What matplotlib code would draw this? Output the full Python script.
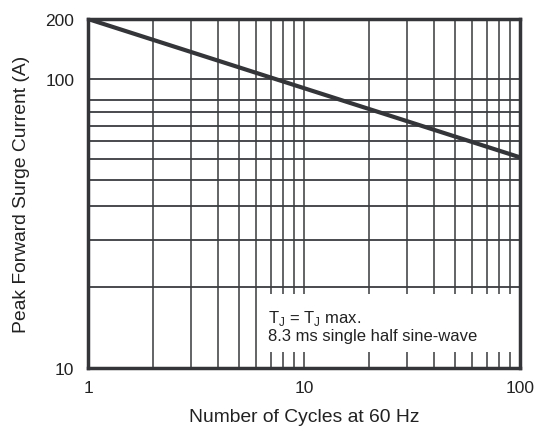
import numpy as np
import matplotlib.pyplot as plt
from matplotlib.patches import Rectangle

plt.rcParams['font.family'] = ['Liberation Sans', 'DejaVu Sans']
plt.rcParams['mathtext.fontset'] = 'custom'
plt.rcParams['mathtext.rm'] = 'Liberation Sans'

# surge curve (straight on log-log)
cycles = [1, 100]
current = [200, 61]

# grid values
x_grid = [2, 3, 4, 5, 6, 7, 8, 9, 10, 20, 30, 40, 50, 60, 70, 80, 90]
y_grid = [20, 30, 40, 50, 60, 70, 80, 90, 100, 120]

# tick labels as printed on the sheet
x_ticks = [1, 10, 100]
x_labels = ['1', '10', '100']
y_ticks = [10, 120, 200]
y_labels = ['10', '100', '200']

ink = '#333538'

fig = plt.figure(figsize=(5.38, 4.31), dpi=100)
ax = fig.add_axes([0.1636, 0.1439, 0.8029, 0.8097])

ax.set_xscale('log')
ax.set_yscale('log')
ax.set_xlim(1, 100)
ax.set_ylim(10, 200)

for xv in x_grid:
    ax.axvline(xv, color='#555759', lw=1.3, zorder=1)
for yv in y_grid:
    ax.axhline(yv, color='#3a3c3f', lw=1.3, zorder=1)

# white box behind the note
ax.add_patch(Rectangle((0.405, 0.046), 0.583, 0.166, transform=ax.transAxes,
                       facecolor='white', edgecolor='none', zorder=2))

ax.plot(cycles, current, color=ink, lw=3, solid_capstyle='butt', zorder=3)

ax.text(0.416, 0.145, r'T$_{\mathrm{J}}$ = T$_{\mathrm{J}}$ max.', transform=ax.transAxes,
        fontsize=12, color='#222', va='center', zorder=4)
ax.text(0.416, 0.092, '8.3 ms single half sine-wave', transform=ax.transAxes,
        fontsize=12, color='#222', va='center', zorder=4)

ax.set_xticks(x_ticks)
ax.set_xticklabels(x_labels)
ax.set_yticks(y_ticks)
ax.set_yticklabels(y_labels)
ax.minorticks_off()
ax.tick_params(length=0, labelsize=12.5, colors='#222')
ax.tick_params(axis='x', pad=9)
ax.tick_params(axis='y', pad=10)

for s in ax.spines.values():
    s.set_linewidth(2.5)
    s.set_color(ink)
    s.set_zorder(5)

ax.set_xlabel('Number of Cycles at 60 Hz', fontsize=13.9, color='#222', labelpad=9)
ax.set_ylabel('Peak Forward Surge Current (A)', fontsize=13.9, color='#222', labelpad=11)

fig.savefig('out.png', dpi=100)
